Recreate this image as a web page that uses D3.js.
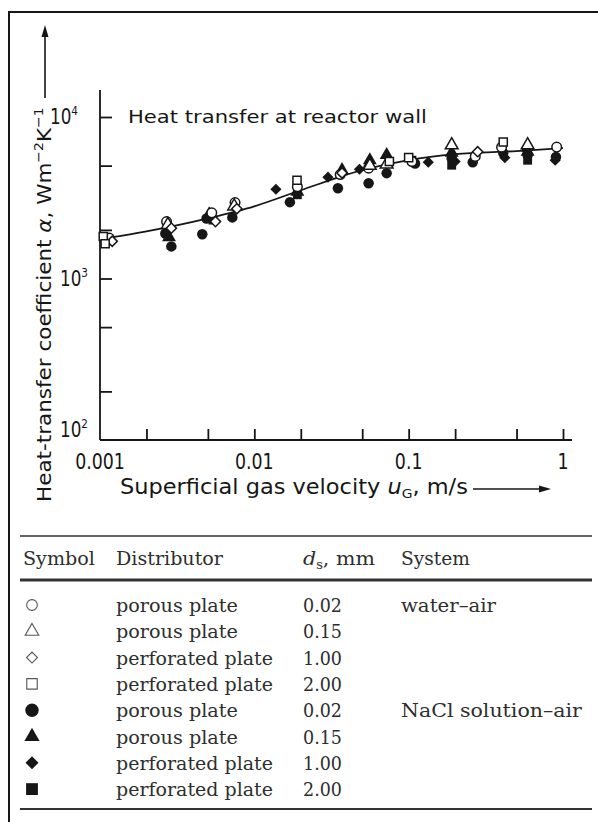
<!DOCTYPE html>
<html>
<head>
<meta charset="utf-8">
<script src="https://cdn.jsdelivr.net/npm/d3@7"></script>
<style>
  html, body { margin: 0; padding: 0; background: #fff; }
  svg { display: block; }
</style>
</head>
<body>
<svg id="chart" width="598" height="822"></svg>
<script>
// Heat transfer at the reactor wall: alpha against superficial gas velocity u_G

// axis ticks
const xTicks = [0.002, 0.005, 0.01, 0.02, 0.05, 0.1, 0.2, 0.5, 1];
const xTickLabels = [[0.001, "0.001"], [0.01, "0.01"], [0.1, "0.1"], [1, "1"]];
const yTicks = [200, 500, 1000, 2000, 5000, 10000];
const yTickLabels = [[100, "2"], [1000, "3"], [10000, "4"]];

// correlation curve through the data
const curveU = [0.001, 0.002, 0.005, 0.01, 0.02, 0.05, 0.1, 0.2, 0.5, 1];
const curveAlpha = [1750, 1960, 2360, 2800, 3520, 4690, 5410, 5890, 6150, 6420];

// measured points: [u_G in m/s, alpha in W m^-2 K^-1]
const waterPorous002 = [[0.00115, 1780], [0.0027, 2250], [0.0053, 2550], [0.0075, 2950], [0.019, 3700],
  [0.036, 4400], [0.055, 4820], [0.105, 5300], [0.27, 5700], [0.40, 6500], [0.91, 6510]];
const waterPorous015 = [[0.00275, 2150], [0.0074, 2800], [0.056, 5000], [0.072, 5100], [0.19, 6700], [0.59, 6700]];
const waterPerf100 = [[0.0012, 1700], [0.0029, 2050], [0.0056, 2250], [0.0077, 2700], [0.037, 4500], [0.28, 6100]];
const waterPerf200 = [[0.00105, 1820], [0.00108, 1640], [0.0189, 4060], [0.075, 5300], [0.10, 5600], [0.41, 7000]];
const naclPorous002 = [[0.0029, 1580], [0.00265, 1900], [0.0046, 1880], [0.0049, 2350], [0.0072, 2390],
  [0.017, 2970], [0.0348, 3620], [0.055, 3890], [0.072, 4490], [0.11, 5150], [0.19, 5560],
  [0.26, 5250], [0.41, 5980], [0.59, 5810], [0.9, 5650]];
const naclPorous015 = [[0.0028, 1800], [0.0051, 2500], [0.019, 3450], [0.037, 4690], [0.056, 5400],
  [0.072, 5810], [0.19, 6000], [0.59, 6100]];
const naclPerf100 = [[0.0027, 1950], [0.0052, 2400], [0.0138, 3570], [0.030, 4240], [0.048, 4750],
  [0.134, 5250], [0.2, 5300], [0.42, 5600], [0.58, 6200], [0.89, 5400]];
const naclPerf200 = [[0.0054, 2300], [0.019, 3300], [0.105, 5400], [0.19, 5030], [0.59, 5400]];

// legend table
const tableHeaders = ["Symbol", "Distributor", "System"];
const symbolTypes = ["circle", "triangle", "diamond", "square", "circle", "triangle", "diamond", "square"];
const symbolFilled = [false, false, false, false, true, true, true, true];
const distributors = ["porous plate", "porous plate", "perforated plate", "perforated plate",
  "porous plate", "porous plate", "perforated plate", "perforated plate"];
const holeDiameters = ["0.02", "0.15", "1.00", "2.00", "0.02", "0.15", "1.00", "2.00"];
const systems = ["water\u2013air", "", "", "", "NaCl solution\u2013air", "", "", ""];

const series = [
  { data: naclPorous002, type: "circle", filled: true },
  { data: naclPorous015, type: "triangle", filled: true },
  { data: naclPerf100, type: "diamond", filled: true },
  { data: naclPerf200, type: "square", filled: true },
  { data: waterPorous002, type: "circle", filled: false },
  { data: waterPorous015, type: "triangle", filled: false },
  { data: waterPerf100, type: "diamond", filled: false },
  { data: waterPerf200, type: "square", filled: false }
];

const INK = "#161616";
const SANS = "'DejaVu Sans', sans-serif";
const SERIF = "'DejaVu Serif', 'Liberation Serif', serif";

const svg = d3.select("#chart");

// outer frame (left and top edges)
svg.append("path")
  .attr("d", "M9,822V12H598")
  .attr("fill", "none").attr("stroke", INK).attr("stroke-width", 2);

const x = d3.scaleLog().domain([0.001, 1]).range([100, 563]);
const y = d3.scaleLog().domain([100, 10000]).range([440, 117]);

// place a text element, squeezed/stretched along its run to a given width
function fitText(sel, px, py, width, rotate) {
  const w = sel.node().getComputedTextLength();
  const k = width / w;
  sel.attr("transform", `translate(${px},${py})` + (rotate ? ` rotate(${rotate})` : "") + ` scale(${k},1)`);
  return sel;
}

// axes
const xAxis = svg.append("g").attr("transform", "translate(0,440)")
  .call(d3.axisBottom(x).tickValues(xTicks).tickSize(-11).tickSizeOuter(0).tickFormat(""));
xAxis.select(".domain").attr("d", "M100,0H572");
const yAxis = svg.append("g").attr("transform", "translate(100,0)")
  .call(d3.axisLeft(y).tickValues(yTicks).tickSize(-12).tickSizeOuter(0).tickFormat(""));
yAxis.select(".domain").attr("d", "M0,90V440");
svg.selectAll(".domain, .tick line").attr("stroke", INK).attr("stroke-width", 1.8);

// x tick labels
xTickLabels.forEach(([v, s]) => {
  const t = svg.append("text").attr("font-family", SANS).attr("font-size", 22)
    .attr("fill", INK).attr("text-anchor", "middle").text(s);
  const w = t.node().getComputedTextLength();
  fitText(t, x(v), 469, w * 0.79);
});

// y tick labels: 10^n
yTickLabels.forEach(([v, e]) => {
  const t = svg.append("text").attr("font-family", SANS).attr("font-size", 21)
    .attr("fill", INK).attr("text-anchor", "end");
  t.append("tspan").text("10");
  t.append("tspan").attr("font-size", 13).attr("dy", -9).text(e);
  const w = t.node().getComputedTextLength();
  const by = v === 100 ? y(v) - 3 : y(v) + 7;
  fitText(t, v === 10000 ? 78 : 88, by, w * 0.8);
});

// annotation
const note = svg.append("text").attr("font-family", SANS).attr("font-size", 17)
  .attr("fill", INK).text("Heat transfer at reactor wall");
fitText(note, 128, 123, 299);

// x axis title with arrow
const xt = svg.append("text").attr("font-family", SANS).attr("font-size", 21).attr("fill", INK);
xt.append("tspan").text("Superficial gas velocity ");
xt.append("tspan").attr("font-style", "italic").text("u");
xt.append("tspan").attr("font-size", 13).attr("dy", 4).text("G");
xt.append("tspan").attr("dy", -4).text(", m/s");
fitText(xt, 120, 494, 348);
svg.append("line").attr("x1", 473).attr("x2", 541).attr("y1", 489).attr("y2", 489)
  .attr("stroke", INK).attr("stroke-width", 1.6);
svg.append("path").attr("d", "M551,489L539,485.5L539,492.5Z").attr("fill", INK);

// y axis title with arrow
const yt = svg.append("text").attr("font-family", SANS).attr("font-size", 20).attr("fill", INK);
yt.append("tspan").text("Heat-transfer coefficient ");
yt.append("tspan").attr("font-style", "italic").text("\u03b1");
yt.append("tspan").text(", Wm");
yt.append("tspan").attr("font-size", 13).attr("dy", -8).text("\u22122");
yt.append("tspan").attr("dy", 8).text("K");
yt.append("tspan").attr("font-size", 13).attr("dy", -8).text("\u22121");
fitText(yt, 51, 502, 395, -90);
svg.append("line").attr("x1", 45).attr("x2", 45).attr("y1", 98).attr("y2", 35)
  .attr("stroke", INK).attr("stroke-width", 1.6);
svg.append("path").attr("d", "M45,25L41.5,37L48.5,37Z").attr("fill", INK);

// correlation curve
const curvePts = curveU.map((u, i) => [x(u), y(curveAlpha[i])]);
svg.append("path")
  .attr("d", d3.line().curve(d3.curveMonotoneX)(curvePts))
  .attr("fill", "none").attr("stroke", INK).attr("stroke-width", 1.8);

// marker generator
const symbolMap = {
  circle: d3.symbolCircle, triangle: d3.symbolTriangle,
  diamond: d3.symbolSquare, square: d3.symbolSquare
};
function marker(g, type, filled, cx, cy, size) {
  const p = g.append("path")
    .attr("d", d3.symbol().type(symbolMap[type]).size(size)())
    .attr("transform", `translate(${cx},${cy})` + (type === "diamond" ? " rotate(45)" : ""));
  if (filled) p.attr("fill", INK).attr("stroke", "none");
  else p.attr("fill", "#fff").attr("stroke", INK).attr("stroke-width", 1.5);
  return p;
}
const plotSizes = { circle: 72, triangle: 70, diamond: 52, square: 66 };
const pts = svg.append("g");
series.forEach(s => {
  s.data.forEach(([u, a]) => marker(pts, s.type, s.filled, x(u), y(a), plotSizes[s.type] * (s.filled ? 1.2 : 1)));
});

// legend table
const tbl = svg.append("g");
const rule = (yy, w) => tbl.append("line").attr("x1", 20).attr("x2", 592)
  .attr("y1", yy).attr("y2", yy).attr("stroke", "#333").attr("stroke-width", w);
rule(536, 1.6);
rule(580, 2.8);
rule(809, 2.2);

const TINK = "#2e2e2e";
function tText(str, px, py, width) {
  const t = tbl.append("text").attr("font-family", SERIF).attr("font-size", 19)
    .attr("fill", TINK).text(str);
  return fitText(t, px, py, width);
}
tText(tableHeaders[0], 23, 565, 72);
tText(tableHeaders[1], 116, 565, 107);
tText(tableHeaders[2], 401, 565, 69);
const dh = tbl.append("text").attr("font-family", SERIF).attr("font-size", 19).attr("fill", TINK);
dh.append("tspan").attr("font-style", "italic").text("d");
dh.append("tspan").attr("font-size", 12).attr("dy", 4).text("s");
dh.append("tspan").attr("dy", -4).text(", mm");
fitText(dh, 303, 565, 72);

const tableSizes = {
  open: { circle: 90, triangle: 80, diamond: 60, square: 110 },
  solid: { circle: 140, triangle: 100, diamond: 85, square: 140 }
};
distributors.forEach((d, i) => {
  const by = 612 + i * 26.3;
  const sz = symbolFilled[i] ? tableSizes.solid : tableSizes.open;
  marker(tbl, symbolTypes[i], symbolFilled[i], 32, by - 7, sz[symbolTypes[i]])
    .attr("stroke-width", 1.1).attr("stroke", symbolFilled[i] ? "none" : "#555");
  tText(d, 116, by, d === "porous plate" ? 122 : 157);
  tText(holeDiameters[i], 303, by, 39);
  if (systems[i]) tText(systems[i], 401, by, systems[i].length > 12 ? 181 : 95);
});
</script>
</body>
</html>
